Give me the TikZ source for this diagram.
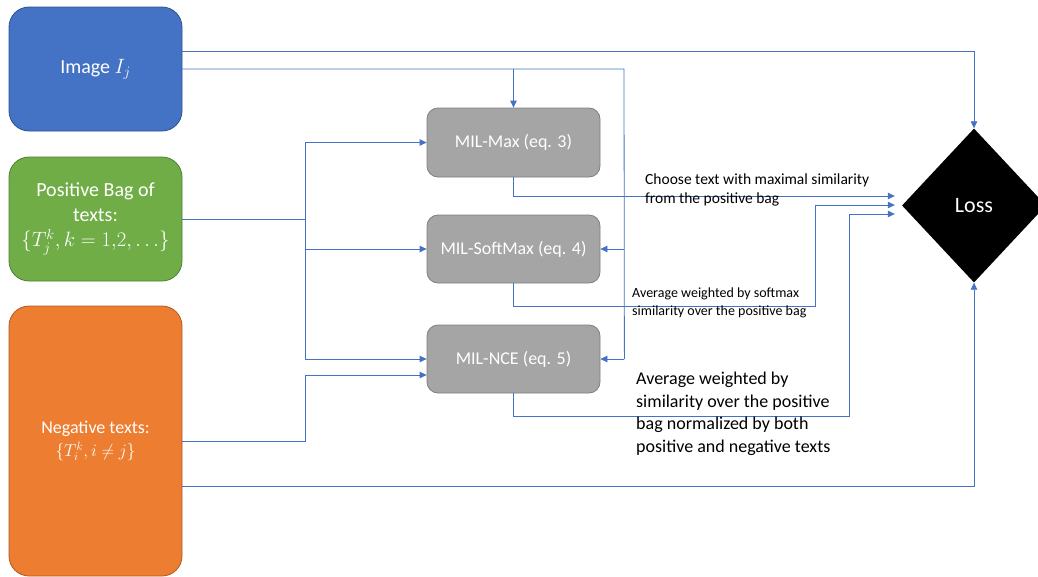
\documentclass[tikz,border=0pt]{standalone}
\usepackage{fontspec}
\setmainfont{Carlito}
\usetikzlibrary{shapes.geometric,arrows.meta,calc}
\definecolor{cblue}{HTML}{4472C4}
\definecolor{cblueD}{HTML}{2F528F}
\definecolor{cgreen}{HTML}{70AD47}
\definecolor{cgreenD}{HTML}{507E32}
\definecolor{corange}{HTML}{ED7D31}
\definecolor{corangeD}{HTML}{AE5A21}
\definecolor{cgray}{HTML}{A5A5A5}
\definecolor{cgrayD}{HTML}{7F7F7F}
\definecolor{cline}{HTML}{4472C4}
\tikzset{
  inbox/.style={rounded corners=20pt, minimum width=173pt, line width=0.8pt, text=white, align=center, inner sep=2pt},
  milbox/.style={rounded corners=11pt, minimum width=173pt, minimum height=68pt, fill=cgray, draw=cgrayD, line width=0.8pt, text=white, font=\fontsize{18}{22}\selectfont},
  conn/.style={draw=cline, line width=0.8pt, -{Triangle[length=7pt,width=6.5pt]}},
  plain/.style={draw=cline, line width=0.8pt},
  lbl/.style={anchor=north west, align=left, inner sep=0pt, text=black}
}
\begin{document}
\begin{tikzpicture}[x=1pt,y=-1pt]
\useasboundingbox (0,0) rectangle (1038,576);
% input boxes
\node[inbox, fill=cblue, draw=cblueD, minimum height=124pt, font=\fontsize{20}{24}\selectfont] (img) at (95.5,69) {Image $I_j$};
\node[inbox, fill=cgreen, draw=cgreenD, minimum height=124pt, font=\fontsize{20}{25}\selectfont] (pos) at (95.5,219) {Positive Bag of\\texts:\\$\bigl\{T_j^k, k=1{,}2,\ldots\bigr\}$};
\node[inbox, fill=corange, draw=corangeD, minimum height=270pt, font=\fontsize{18}{23}\selectfont] (neg) at (95.5,441) {Negative texts:\\$\bigl\{T_i^k, i\neq j\bigr\}$};
% MIL boxes
\node[milbox, minimum height=69pt] (max) at (513.5,142.5) {MIL-Max (eq. 3)};
\node[milbox] (soft) at (513.5,249) {MIL-SoftMax (eq. 4)};
\node[milbox] (nce) at (513.5,359) {MIL-NCE (eq. 5)};
% Loss
\node[diamond, fill=black, minimum width=144pt, minimum height=154pt, inner sep=0pt, text=white, font=\fontsize{22}{26}\selectfont] (loss) at (974,205.5) {Loss};
% coordinates
\coordinate (ibus) at (624,69);
\coordinate (pbus) at (305,219);
\coordinate (nbend) at (305,375);
\coordinate (sbend) at (815,306);
\coordinate (cbend) at (849,416);
% image connectors
\draw[conn] ([yshift=18pt]img.east) -| (loss.north);
\draw[plain] (img.east) -- (ibus) -- ($(nce.east)+(24,0)$);
\draw[conn] (max.north |- img.east) -- (max.north);
\draw[conn] ($(soft.east)+(24,0)$) -- (soft.east);
\draw[conn] ($(nce.east)+(24,0)$) -- (nce.east);
% positive connectors
\draw[plain] (pos.east) -- (pbus);
\draw[conn] (pbus) |- (max.west);
\draw[conn] (pbus) |- (soft.west);
\draw[conn] (pbus) |- (nce.west);
% negative connectors
\draw[conn] (neg.east) -| (nbend) -- ([yshift=-16pt]nce.west);
\draw[conn] ([yshift=-45pt]neg.east) -| (loss.south);
% outputs
\draw[conn] (max.south) |- ([xshift=-7pt,yshift=9.5pt]loss.west);
\draw[conn] (soft.south) |- (sbend) |- ([xshift=-7pt,yshift=0.5pt]loss.west);
\draw[conn] (nce.south) |- (cbend) |- ([xshift=-7pt,yshift=-8.5pt]loss.west);
% labels
\node[lbl, font=\fontsize{15.5}{19}\selectfont] (l1) at (645,174) {Choose text with maximal similarity\\from the positive bag};
\node[lbl, font=\fontsize{14}{18}\selectfont] (l2) at (632,288) {Average weighted by softmax\\similarity over the positive bag};
\node[lbl, font=\fontsize{18}{22.5}\selectfont] (l3) at (636,372) {Average weighted by\\similarity over the positive\\bag normalized by both\\positive and negative texts};
\end{tikzpicture}
\end{document}
